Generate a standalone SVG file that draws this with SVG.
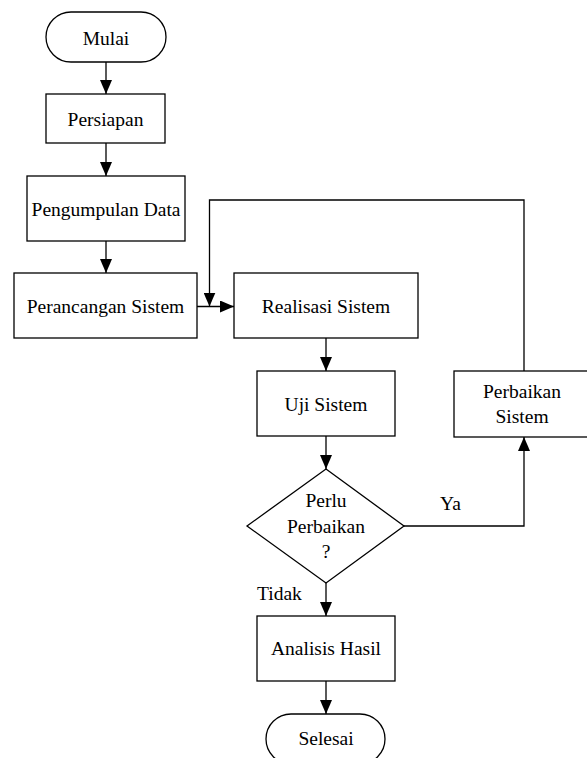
<svg xmlns="http://www.w3.org/2000/svg" width="587" height="758" viewBox="0 0 587 758">
<style>
.s{fill:#fff;stroke:#000;stroke-width:1.3}
.t{font-family:'Liberation Serif',Tinos,'Times New Roman',Times,'DejaVu Serif',serif;font-size:19.5px;fill:#000;text-anchor:middle}
.l{font-family:'Liberation Serif',Tinos,'Times New Roman',Times,'DejaVu Serif',serif;font-size:19.5px;fill:#000}
.c{fill:none;stroke:#000;stroke-width:1.3}
</style>
<defs>
<marker id="ah" markerUnits="userSpaceOnUse" markerWidth="14" markerHeight="12" refX="14" refY="6" orient="auto">
<path d="M0,0 L14,6 L0,12 Z" fill="#000"/>
</marker>
</defs>
<rect width="587" height="758" fill="#fff"/>
<g id="connectors">
<path class="c" d="M106,62 V94" marker-end="url(#ah)"/>
<path class="c" d="M106,143 V176" marker-end="url(#ah)"/>
<path class="c" d="M106,241 V273" marker-end="url(#ah)"/>
<path class="c" d="M197,306.5 H234" marker-end="url(#ah)"/>
<path class="c" d="M524,371 V200 H209.5 V306.5" marker-end="url(#ah)"/>
<path class="c" d="M326,338 V371" marker-end="url(#ah)"/>
<path class="c" d="M326,436 V469" marker-end="url(#ah)"/>
<path class="c" d="M326,583 V616" marker-end="url(#ah)"/>
<path class="c" d="M326,681 V714" marker-end="url(#ah)"/>
<path class="c" d="M404,526 H524 V437" marker-end="url(#ah)"/>
<text class="l" font-family="Liberation Serif, serif" x="440" y="510">Ya</text>
<text class="l" font-family="Liberation Serif, serif" x="257" y="600">Tidak</text>
</g>
<g id="mulai"><rect class="s" x="46" y="12" width="120" height="50" rx="25"/><text class="t" x="106" y="44.5">Mulai</text></g>
<g id="persiapan"><rect class="s" x="46" y="94" width="119" height="49"/><text class="t" x="105.5" y="125.5">Persiapan</text></g>
<g id="pengumpulan"><rect class="s" x="27" y="176" width="158" height="65"/><text class="t" x="106" y="215.5">Pengumpulan Data</text></g>
<g id="perancangan"><rect class="s" x="14" y="273" width="183" height="65"/><text class="t" x="105.5" y="313">Perancangan Sistem</text></g>
<g id="realisasi"><rect class="s" x="234" y="273" width="184" height="65"/><text class="t" x="326" y="313">Realisasi Sistem</text></g>
<g id="uji"><rect class="s" x="257" y="371" width="138" height="65"/><text class="t" x="326" y="411">Uji Sistem</text></g>
<g id="perbaikan"><rect class="s" x="454" y="371" width="136" height="66"/><text class="t" x="522" y="398">Perbaikan</text><text class="t" x="522" y="423">Sistem</text></g>
<g id="keputusan"><polygon class="s" points="326,469 404,526 326,583 247,526"/><text class="t" x="326" y="506.5">Perlu</text><text class="t" x="326" y="533">Perbaikan</text><text class="t" x="326" y="558">?</text></g>
<g id="analisis"><rect class="s" x="257" y="616" width="138" height="65"/><text class="t" x="326" y="655">Analisis Hasil</text></g>
<g id="selesai"><rect class="s" x="266" y="714" width="119" height="50" rx="25"/><text class="t" x="326" y="745">Selesai</text></g>
</svg>
